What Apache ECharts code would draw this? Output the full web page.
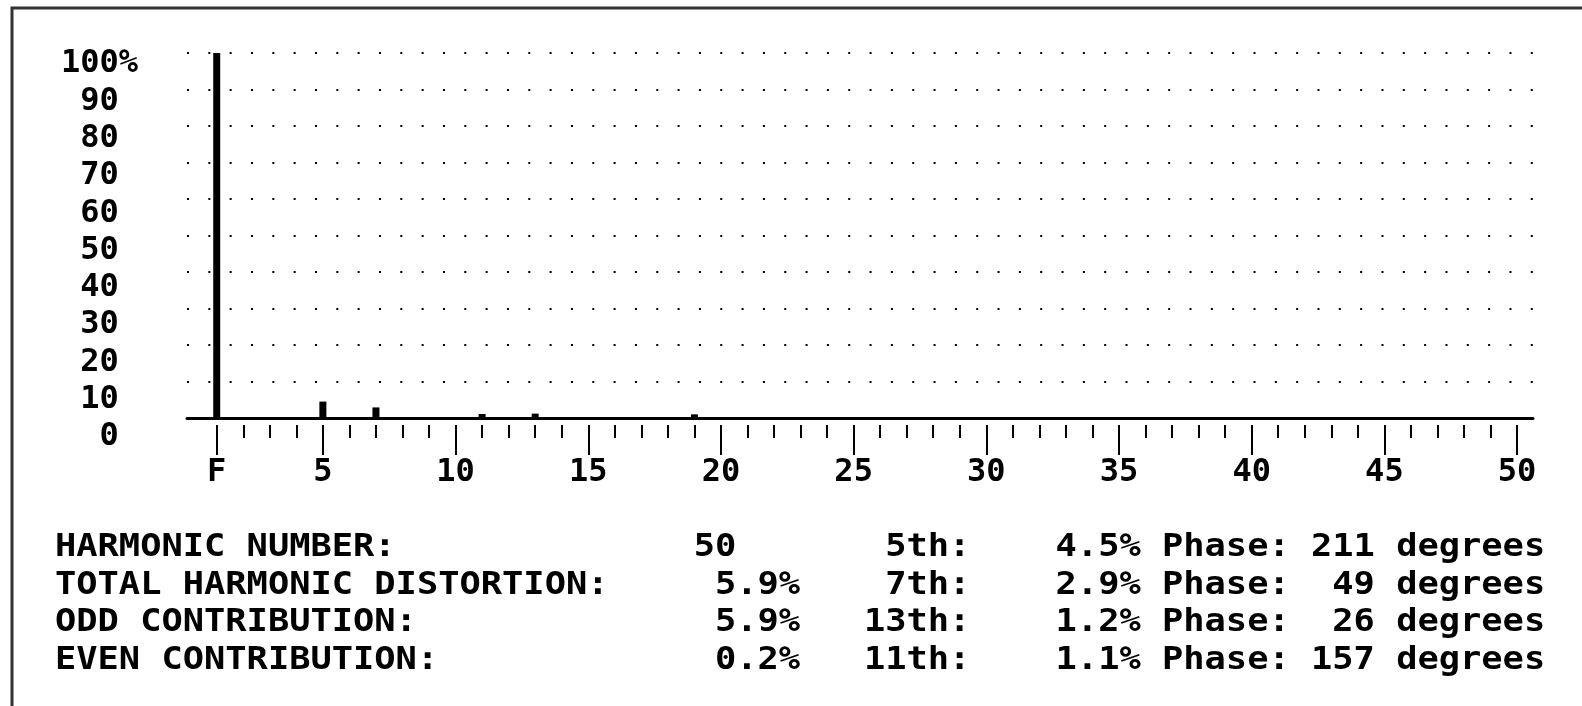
<!DOCTYPE html>
<html>
<head>
<meta charset="utf-8">
<title>Harmonic spectrum</title>
<script src="https://cdn.jsdelivr.net/npm/echarts@6.0.0/dist/echarts.min.js"></script>
<style>
	html, body { margin: 0; padding: 0; background: #fff; }
	#chart { width: 1582px; height: 706px; }
</style>
</head>
<body>
<div id="chart"></div>
<script>
	// harmonic order (1 = fundamental "F") and magnitude in % of fundamental
	var harmonics = [1, 5, 7, 11, 13, 19];
	var magnitudes = [100, 4.5, 2.9, 1.1, 1.2, 1.0];

	// x axis: long ticks with labels, short ticks between them
	var majorTicks = [1, 5, 10, 15, 20, 25, 30, 35, 40, 45, 50];
	var minorTicks = [];
	for (var h = 2; h <= 50; h++) {
		if (majorTicks.indexOf(h) < 0) minorTicks.push(h);
	}

	// summary table under the chart
	var summaryLabels = ['HARMONIC NUMBER:', 'TOTAL HARMONIC DISTORTION:', 'ODD CONTRIBUTION:', 'EVEN CONTRIBUTION:'];
	var harmonicCount = 50;
	var distortion = [5.9, 5.9, 0.2]; // total, odd, even
	var topOrders = [5, 7, 13, 11];
	var topPercents = [4.5, 2.9, 1.2, 1.1];
	var topPhases = [211, 49, 26, 157];

	var FONT_FAMILY = '"DejaVu Sans Mono", "Liberation Mono", monospace';
	var labelFont = {
		fontFamily: FONT_FAMILY,
		fontWeight: 'bold',
		fontSize: 32,
		color: '#000'
	};

	// one text line per row, laid out on a fixed character grid
	function buildRow(i) {
		var val = i === 0 ? String(harmonicCount) : (distortion[i - 1].toFixed(1) + '%').padStart(5);
		return summaryLabels[i].padEnd(30) +
			val.padEnd(8) +
			(topOrders[i] + 'th:').padStart(5) +
			'    ' +
			(topPercents[i].toFixed(1) + '%').padStart(4) +
			' Phase: ' +
			String(topPhases[i]).padStart(3) +
			' degrees';
	}

	var graphics = [{
		type: 'polyline',
		silent: true,
		shape: { points: [[12, 706], [12, 8], [1582, 8]] },
		style: { stroke: '#333', lineWidth: 3, fill: null }
	}];
	for (var i = 0; i < summaryLabels.length; i++) {
		graphics.push({
			type: 'text',
			x: 55,
			y: 548 + i * 37.5,
			scaleX: 1.105,
			silent: true,
			style: {
				text: buildRow(i),
				font: 'bold 32px ' + FONT_FAMILY,
				fill: '#000',
				align: 'left',
				verticalAlign: 'middle'
			}
		});
	}

	var xMin = -0.12, xMax = 50.6;
	function harmonicAxis(extra) {
		return Object.assign({
			type: 'value',
			gridIndex: 0,
			position: 'bottom',
			min: xMin,
			max: xMax,
			axisLine: { show: false },
			axisTick: { show: false },
			axisLabel: { show: false },
			splitLine: { show: false }
		}, extra);
	}

	var chart = echarts.init(document.getElementById('chart'));
	chart.setOption({
		animation: false,
		backgroundColor: '#fff',
		grid: [
			{ left: 187, right: 49, top: 53, bottom: 288, outerBoundsMode: 'none' },
			{ left: 146, width: 10, top: 64, bottom: 269, outerBoundsMode: 'none' }
		],
		xAxis: [
			harmonicAxis({
				axisLine: { show: true, lineStyle: { color: '#000', width: 3 } }
			}),
			harmonicAxis({
				offset: 7,
				axisTick: { show: true, customValues: minorTicks, length: 13, lineStyle: { color: '#000', width: 2 } }
			}),
			harmonicAxis({
				offset: 7,
				axisTick: { show: true, customValues: majorTicks, length: 30, lineStyle: { color: '#000', width: 2 } },
				axisLabel: Object.assign({
					show: true,
					customValues: majorTicks,
					margin: 32,
					formatter: function (v) { return v === 1 ? 'F' : String(v); }
				}, labelFont)
			}),
			{ type: 'value', gridIndex: 1, show: false }
		],
		yAxis: [{
			type: 'value',
			gridIndex: 0,
			min: 0,
			max: 100,
			interval: 10,
			axisLine: { show: false },
			axisTick: { show: false },
			axisLabel: { show: false },
			splitLine: { show: true, lineStyle: { type: [2, 19.33], width: 2, color: '#000' } }
		}, {
			// labels sit on their own scale, a little lower than the dotted rows
			type: 'value',
			gridIndex: 1,
			min: 0,
			max: 100,
			interval: 10,
			axisLine: { show: false },
			axisTick: { show: false },
			splitLine: { show: false },
			axisLabel: Object.assign({
				margin: 8,
				formatter: function (v) { return v + (v === 100 ? '%' : ' '); }
			}, labelFont)
		}],
		series: [{
			type: 'bar',
			xAxisIndex: 0,
			yAxisIndex: 0,
			barWidth: 7,
			silent: true,
			itemStyle: { color: '#000' },
			data: harmonics.map(function (h, i) { return [h, magnitudes[i]]; })
		}],
		graphic: graphics
	});
</script>
</body>
</html>
